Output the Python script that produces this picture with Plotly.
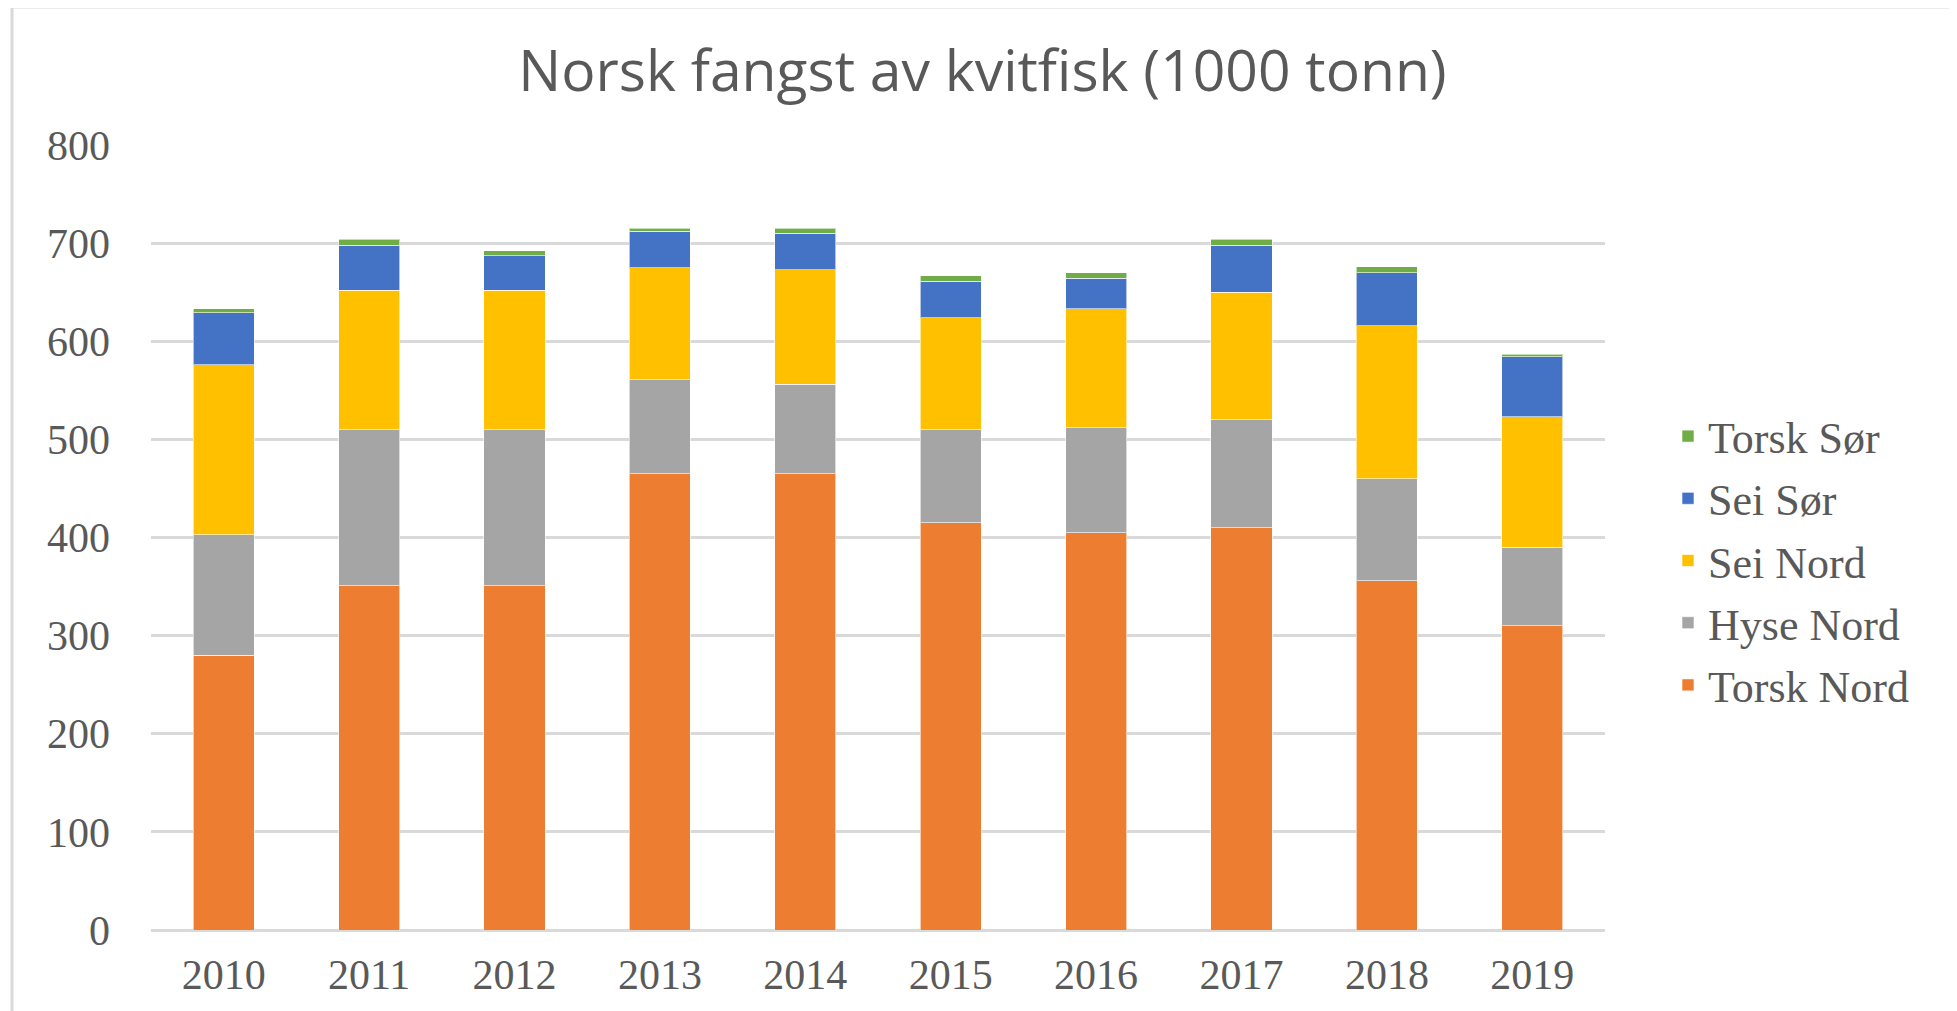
import plotly.graph_objects as go

years = ["2010", "2011", "2012", "2013", "2014", "2015", "2016", "2017", "2018", "2019"]
torsk_nord = [280, 351, 351, 465, 465, 415, 405, 410, 356, 310]
hyse_nord = [123, 159, 159, 96, 91, 95, 107, 110, 104, 80]
sei_nord = [173, 142, 142, 114, 117, 114, 121, 130, 156, 133]
sei_sor = [53, 46, 35, 37, 37, 37, 31, 48, 54, 61]
torsk_sor = [4, 6, 5, 3, 5, 6, 6, 6, 6, 3]

series = [
    ("Torsk Nord", torsk_nord, "#ED7D31"),
    ("Hyse Nord", hyse_nord, "#A5A5A5"),
    ("Sei Nord", sei_nord, "#FFC000"),
    ("Sei Sør", sei_sor, "#4472C4"),
    ("Torsk Sør", torsk_sor, "#70AD47"),
]

TXT = "#595959"
GRID = "#D9D9D9"

fig = go.Figure()
n = len(series)
for i, (name, vals, col) in enumerate(series):
    fig.add_trace(go.Bar(
        x=years, y=vals, name=name, legendgroup=name, legendrank=n - i,
        marker=dict(color=col, line=dict(color="rgba(255,255,255,0.6)", width=1)),
    ))

# page has an 8px body margin; figure is sized so it fits the window
W, H = 1949, 1003
L, T = 143, 137
pw, ph = 1454, 785
R, B = W - L - pw, H - T - ph

fig.update_layout(
    width=W, height=H,
    barmode="stack", bargap=0.58,
    plot_bgcolor="white", paper_bgcolor="white",
    margin=dict(l=L, r=R, t=T, b=B, autoexpand=False),
    title=dict(text="Norsk fangst av kvitfisk (1000 tonn)", x=0.5, xanchor="center",
               xref="container",
               y=1 - 63 / H, yanchor="middle", yref="container",
               font=dict(family="Open Sans", size=57, color=TXT)),
    font=dict(family="Liberation Serif", color=TXT),
    legend=dict(xref="container", yref="container", x=1660 / W, xanchor="left",
                y=1 - 393 / H, yanchor="top", traceorder="grouped",
                tracegroupgap=2, font=dict(family="Liberation Serif", size=44, color=TXT),
                bgcolor="rgba(0,0,0,0)"),
    showlegend=True,
)
fig.update_xaxes(showgrid=False, showline=False, ticks="",
                 tickfont=dict(family="Liberation Serif", size=42, color=TXT),
                 ticklabelstandoff=16)
fig.update_yaxes(range=[0, 800], dtick=100, showgrid=True, gridcolor=GRID, gridwidth=2.5,
                 zeroline=True, zerolinecolor=GRID, zerolinewidth=2.5, showline=False, ticks="",
                 tickfont=dict(family="Liberation Serif", size=42, color=TXT),
                 ticklabelstandoff=40)

# chart-area border (left and top edges visible in the reference)
fig.add_shape(type="rect", xref="paper", yref="paper",
              x0=(4 - L) / pw, x1=(W + 20 - L) / pw,
              y0=-(B + 20) / ph, y1=(T + ph - (-1)) / ph,
              line=dict(color=GRID, width=3), fillcolor="rgba(0,0,0,0)", layer="below")

fig.write_html("out.html")
